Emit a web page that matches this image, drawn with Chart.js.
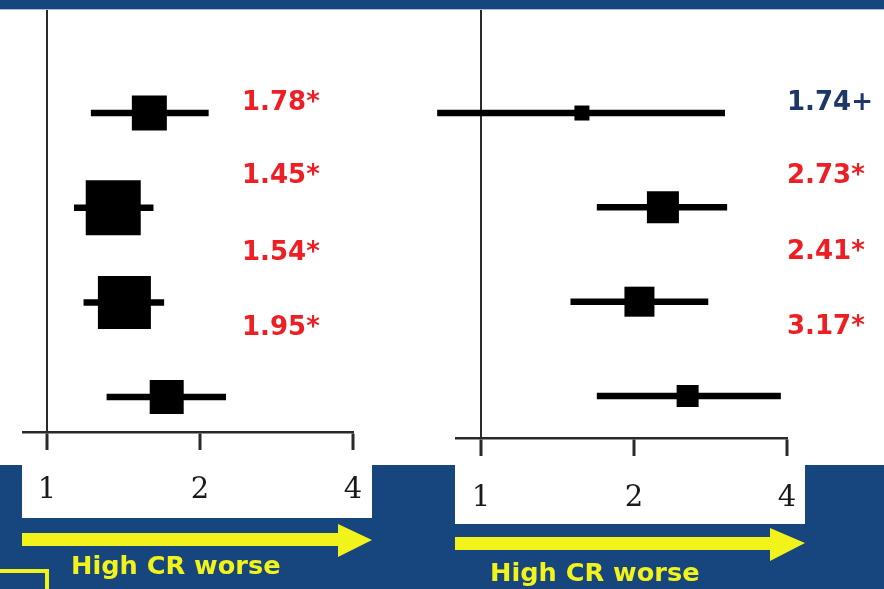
<!DOCTYPE html>
<html>
<head>
<meta charset="utf-8">
<script src="https://cdn.jsdelivr.net/npm/chart.js@4/dist/chart.umd.min.js"></script>
<style>
  html, body { margin:0; padding:0; width:884px; height:589px; overflow:hidden; background:#ffffff; }
  #topband { position:absolute; left:0; top:0; width:884px; height:9px; background:#17457d; z-index:6; box-shadow:0 1px 0 #a9bfd9; }
  #bottomband { position:absolute; left:0; top:465px; width:884px; height:124px; background:#17457d; z-index:0; }
  .wbox { position:absolute; background:#ffffff; z-index:1; }
  .wrap { position:absolute; top:0; z-index:3; }
  #arrows { position:absolute; left:0; top:0; z-index:4; }
  .hcr { position:absolute; color:#f3f31c; font-family:"DejaVu Sans", sans-serif; font-weight:bold; font-size:25.6px; line-height:1; z-index:5; white-space:nowrap; }
  #ybox { position:absolute; left:-10px; top:569px; width:59px; height:40px; border:4px solid #f3f31c; box-sizing:border-box; z-index:4; }
</style>
</head>
<body>
<div id="topband"></div>
<div id="bottomband"></div>
<div class="wbox" style="left:22px;top:465px;width:350px;height:53px;"></div>
<div class="wbox" style="left:455px;top:465px;width:350px;height:59px;"></div>

<div class="wrap" style="left:0px;width:420px;height:540px;"><canvas id="leftChart" width="420" height="540"></canvas></div>
<div class="wrap" style="left:420px;width:464px;height:546px;"><canvas id="rightChart" width="464" height="546"></canvas></div>

<svg id="arrows" width="884" height="589" xmlns="http://www.w3.org/2000/svg">
  <rect x="22" y="533" width="320" height="13" fill="#f3f31c"/>
  <polygon points="338,524 372,540 338,557" fill="#f3f31c"/>
  <rect x="455" y="537" width="319" height="13" fill="#f3f31c"/>
  <polygon points="770,528 805,543 770,561" fill="#f3f31c"/>
</svg>
<div id="ybox"></div>
<div class="hcr" style="left:71px;top:553px;">High CR worse</div>
<div class="hcr" style="left:490px;top:560px;">High CR worse</div>

<script>
// ---------------- DATA ----------------
const studyRows   = [0, 1, 2, 3];
const xTickValues = [1, 2, 4];

// Left panel: point estimate, 95% CI, relative weight, printed HR
const leftEst     = [1.59, 1.35, 1.42, 1.72];
const leftLow     = [1.22, 1.13, 1.18, 1.31];
const leftHigh    = [2.08, 1.62, 1.70, 2.25];
const leftWeight  = [35, 55, 53, 34];
const leftLabels  = ['1.78*', '1.45*', '1.54*', '1.95*'];

// Right panel
const rightEst    = [1.58, 2.28, 2.05, 2.55];
const rightLow    = [0.82, 1.69, 1.50, 1.69];
const rightHigh   = [3.02, 3.05, 2.80, 3.89];
const rightWeight = [15, 32, 30, 22];
const rightLabels = ['1.74+', '2.73*', '2.41*', '3.17*'];

// ---------------- STYLE / LAYOUT ----------------
const RED  = '#ee1f24';
const NAVY = '#1d3769';
const LABEL_ROWS = [-0.11, 0.655, 1.47, 2.265];

const labelPlugin = {
  id: 'hrLabels',
  afterDatasetsDraw(chart, args, opts) {
    const ctx = chart.ctx;
    const ys = chart.scales.y;
    ctx.save();
    ctx.font = 'bold 26px "DejaVu Sans"';
    ctx.textAlign = 'left';
    ctx.textBaseline = 'middle';
    opts.labels.forEach((t, i) => {
      ctx.fillStyle = t.endsWith('+') ? NAVY : RED;
      ctx.fillText(t, opts.x, ys.getPixelForValue(LABEL_ROWS[i]) + 1);
    });
    ctx.restore();
  }
};

function buildDatasets(est, low, high, weight) {
  const ds = [];
  studyRows.forEach((r, i) => {
    ds.push({
      data: [{x: low[i], y: r}, {x: high[i], y: r}],
      showLine: true,
      borderColor: '#000',
      borderWidth: 6.5,
      borderCapStyle: 'butt',
      pointRadius: 0,
      clip: false
    });
  });
  ds.push({
    data: studyRows.map((r, i) => ({x: est[i], y: r})),
    showLine: false,
    pointStyle: 'rect',
    pointRadius: weight.map(w => w / Math.SQRT2),
    backgroundColor: '#000',
    borderWidth: 0,
    clip: false
  });
  return ds;
}

function makeChart(id, est, low, high, weight, labels, cfg) {
  return new Chart(document.getElementById(id), {
    type: 'scatter',
    data: { datasets: buildDatasets(est, low, high, weight) },
    plugins: [labelPlugin],
    options: {
      responsive: false,
      animation: false,
      events: [],
      layout: { autoPadding: false, padding: { left: cfg.padLeft, right: cfg.padRight, top: 0, bottom: 0 } },
      plugins: {
        legend: { display: false },
        tooltip: { enabled: false },
        hrLabels: { labels: labels, x: cfg.labelX }
      },
      scales: {
        x: {
          type: 'logarithmic',
          min: cfg.xMin,
          max: 4,
          afterBuildTicks: s => { s.ticks = xTickValues.map(v => ({value: v})); },
          afterFit: s => { s.height = 108; },
          ticks: {
            callback: v => String(v),
            autoSkip: false,
            maxRotation: 0,
            color: '#1a1a1a',
            padding: cfg.tickPad,
            font: { family: '"DejaVu Serif"', size: 29 }
          },
          grid: {
            color: c => (c.tick && c.tick.value === 1) ? '#2a2a2a' : 'rgba(0,0,0,0)',
            lineWidth: 2,
            tickColor: '#2a2a2a',
            tickWidth: 3,
            tickLength: 18
          },
          border: { display: true, color: '#2a2a2a', width: 2.5 }
        },
        y: {
          type: 'linear',
          display: false,
          reverse: true,
          min: cfg.yMin,
          max: cfg.yMax
        }
      }
    }
  });
}

makeChart('leftChart', leftEst, leftLow, leftHigh, leftWeight, leftLabels,
  { padLeft: 23, padRight: 67, xMin: 0.897, yMin: -1.194, yMax: 3.369, labelX: 242, tickPad: 23 });
makeChart('rightChart', rightEst, rightLow, rightHigh, rightWeight, rightLabels,
  { padLeft: 36, padRight: 97, xMin: 0.893, yMin: -1.198, yMax: 3.445, labelX: 367, tickPad: 25 });
</script>
</body>
</html>
